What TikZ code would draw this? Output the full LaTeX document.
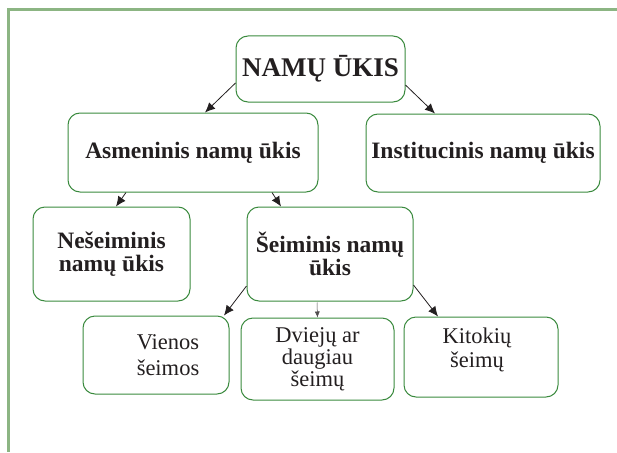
\documentclass[tikz,border=0pt]{standalone}
\usepackage{fontspec}
\setmainfont{Liberation Serif}
\usetikzlibrary{arrows.meta,calc}
\definecolor{framegreen}{HTML}{8CB583}
\definecolor{boxgreen}{HTML}{3A8A3E}
\definecolor{ink}{HTML}{231F20}
\begin{document}
\begin{tikzpicture}[x=1pt,y=-1pt,
  box/.style={draw=boxgreen,line width=1pt,rounded corners=12pt,rectangle,
    inner sep=0pt,align=center,text=ink},
  boldtxt/.style={font=\fontsize{23.5}{23}\selectfont\bfseries},
  regtxt/.style={font=\fontsize{22.5}{22}\selectfont},
  arr/.style={-{Latex[length=10pt,width=9pt]},line width=0.8pt,draw=ink},
  thinarr/.style={-{Latex[length=6pt,width=5pt]},line width=0.5pt,draw=ink!80}]
\path[use as bounding box] (0,0) rectangle (617,452);
\draw[framegreen,line width=3pt] (617,10) -- (8,10) -- (8,452);

\node[box,minimum width=169pt,minimum height=66pt,font=\fontsize{27}{27}\selectfont\bfseries] (root) at (320.5,69) {NAMŲ ŪKIS};
\node[box,boldtxt,minimum width=250pt,minimum height=79pt] (asm) at (193,152.5) {Asmeninis namų ūkis};
\node[box,boldtxt,minimum width=234pt,minimum height=78pt] (inst) at (483,153) {Institucinis namų ūkis};
\node[box,boldtxt,minimum width=157pt,minimum height=94pt] (nes) at (111.5,254) {Nešeiminis\\namų ūkis};
\node[box,boldtxt,minimum width=166pt,minimum height=94pt] (seim) at (330,254) {Šeiminis namų\\ūkis};
\node[box,minimum width=146pt,minimum height=78pt] (vien) at (156,355) {};
\node[regtxt,text=ink,align=center] (vient) at (168,355) {Vienos\\[4pt]šeimos};
\node[box,regtxt,minimum width=153pt,minimum height=82pt] (dvi) at (317.5,359) {Dviejų ar\\daugiau\\šeimų};
\node[box,minimum width=154pt,minimum height=80pt] (kit) at (481,357) {};
\node[regtxt,text=ink,align=center] (kitt) at (477,350) {Kitokių\\[2pt]šeimų};

\draw[arr] ($(root.west)+(0,14)$) -- ($(asm.north)+(12,0)$);
\draw[arr] ($(root.east)+(0,16)$) -- ($(inst.north)+(-48,0)$);
\draw[arr] ($(asm.south)+(-67,0)$) -- ($(nes.north)+(4.5,0)$);
\draw[arr] ($(asm.south)+(79,0)$) -- ($(seim.north)+(-49,0)$);
\draw[arr] ($(seim.west)+(0,32)$) -- ($(vien.north)+(68,0)$);
\draw[thinarr] ($(seim.south)+(-13,1)$) -- (dvi.north);
\draw[arr] ($(seim.east)+(0,31)$) -- ($(kit.north)+(-43,0)$);
\end{tikzpicture}
\end{document}
